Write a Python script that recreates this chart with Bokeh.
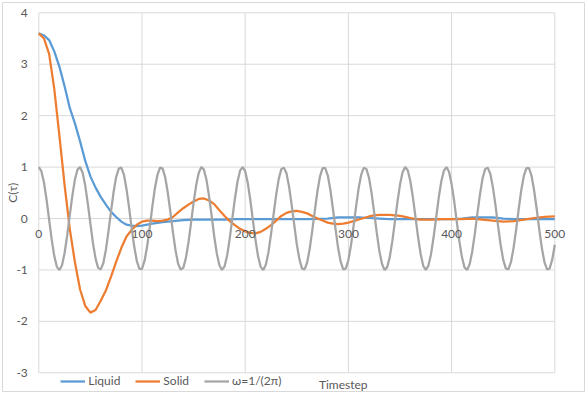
from bokeh.plotting import figure
from bokeh.models import Legend, Label
from bokeh.core.properties import value
from bokeh.embed import file_html
from bokeh.resources import INLINE

# ---- data ----
liquid_t = [0, 5, 10, 15, 20, 25, 30, 35, 40, 45, 50, 55, 60, 65, 70, 75, 80, 85, 90, 95, 100,
            110, 120, 130, 140, 150, 160, 170, 180, 190, 200, 220, 240, 260, 280,
            290, 300, 310, 320, 330, 340, 360, 380, 400, 410, 420, 430, 440, 450, 460, 480, 500]
liquid_c = [3.60, 3.56, 3.47, 3.25, 2.95, 2.57, 2.15, 1.85, 1.50, 1.12, 0.82, 0.60, 0.42, 0.27, 0.13,
            0.03, -0.06, -0.12, -0.14, -0.15, -0.14,
            -0.10, -0.07, -0.05, -0.03, -0.02, -0.02, -0.02, -0.02, -0.01, -0.01, -0.01, -0.01, -0.01, 0.0,
            0.02, 0.02, 0.02, 0.01, 0.0, -0.01, -0.01, -0.01, -0.01, 0.0, 0.02, 0.02, 0.02, 0.0, -0.01, -0.01, -0.01]

solid_t = [0, 5, 10, 15, 20, 25, 30, 35, 40, 45, 50, 55, 60, 65, 70, 75, 80, 85, 90, 95,
           100, 105, 110, 115, 120, 125, 130, 135, 140, 145, 150, 155, 160, 165, 170, 175, 180, 185, 190, 195,
           200, 205, 210, 215, 220, 225, 230, 235, 240, 245, 250, 255, 260, 265, 270, 275, 280, 285, 290, 295,
           300, 305, 310, 315, 320, 325, 330, 335, 340, 345, 350, 355, 360, 365, 370,
           380, 390, 400, 410, 420, 430, 440, 450, 460, 470, 480, 490, 500]
solid_c = [3.60, 3.50, 3.20, 2.52, 1.60, 0.65, -0.20, -0.85, -1.38, -1.70,
           -1.83, -1.78, -1.60, -1.40, -1.13, -0.84, -0.57, -0.35, -0.22, -0.12,
           -0.06, -0.04, -0.04, -0.05, -0.04, -0.02, 0.03, 0.12, 0.20, 0.27,
           0.33, 0.38, 0.39, 0.35, 0.28, 0.16, 0.05, -0.05, -0.13, -0.20,
           -0.25, -0.28, -0.29, -0.26, -0.20, -0.13, -0.04, 0.05, 0.11, 0.14,
           0.15, 0.13, 0.10, 0.05, 0.0, -0.04, -0.08, -0.10, -0.11, -0.10,
           -0.08, -0.05, -0.02, 0.01, 0.04, 0.06, 0.07, 0.07, 0.07, 0.06,
           0.05, 0.03, 0.01, -0.01, -0.02,
           -0.02, -0.01, -0.01, -0.01, 0.0, -0.02, -0.04, -0.06, -0.05, -0.02, 0.01, 0.03, 0.04]

omega_t = [k * 2.5 for k in range(201)]
omega_c = [1.00, 0.92, 0.70, 0.37, -0.02, -0.41, -0.73, -0.94, -1.00, -0.91, -0.67, -0.33, 0.06, 0.44, 0.76, 0.95,
           1.00, 0.89, 0.64, 0.29, -0.10, -0.48, -0.78, -0.96, -0.99, -0.87, -0.61, -0.25, 0.14, 0.52, 0.81, 0.97,
           0.99, 0.85, 0.57, 0.21, -0.19, -0.55, -0.83, -0.98, -0.98, -0.82, -0.54, -0.17, 0.23, 0.59, 0.85, 0.99,
           0.97, 0.80, 0.50, 0.13, -0.27, -0.62, -0.88, -0.99, -0.96, -0.77, -0.47, -0.09, 0.31, 0.65, 0.89, 1.00,
           0.95, 0.75, 0.43, 0.05, -0.35, -0.68, -0.91, -1.00, -0.93, -0.72, -0.39, 0.00, 0.38, 0.71, 0.93, 1.00,
           0.92, 0.69, 0.35, -0.04, -0.42, -0.74, -0.94, -1.00, -0.90, -0.66, -0.31, 0.08, 0.46, 0.77, 0.96, 0.99,
           0.88, 0.62, 0.27, -0.12, -0.50, -0.79, -0.97, -0.99, -0.86, -0.59, -0.23, 0.16, 0.53, 0.82, 0.98, 0.98,
           0.84, 0.56, 0.19, -0.20, -0.57, -0.84, -0.99, -0.97, -0.81, -0.52, -0.15, 0.24, 0.60, 0.86, 0.99, 0.96,
           0.79, 0.49, 0.11, -0.28, -0.63, -0.88, -1.00, -0.95, -0.76, -0.45, -0.07, 0.32, 0.66, 0.90, 1.00, 0.94,
           0.73, 0.41, 0.03, -0.36, -0.69, -0.92, -1.00, -0.92, -0.70, -0.37, 0.01, 0.40, 0.72, 0.93, 1.00, 0.91,
           0.67, 0.34, -0.06, -0.44, -0.75, -0.95, -1.00, -0.89, -0.64, -0.30, 0.10, 0.47, 0.78, 0.96, 0.99, 0.87,
           0.61, 0.26, -0.14, -0.51, -0.80, -0.97, -0.99, -0.85, -0.58, -0.22, 0.18, 0.55, 0.83, 0.98, 0.98, 0.83,
           0.54, 0.18, -0.22, -0.58, -0.85, -0.99, -0.97, -0.80, -0.51]

series_names = ["Liquid", "Solid", "ω=1/(2π)"]
x_ticks = [0, 100, 200, 300, 400, 500]
x_tick_labels = ["0", "100", "200", "300", "400", "500"]
y_ticks = [-3, -2, -1, 0, 1, 2, 3, 4]
y_tick_labels = ["-3", "-2", "-1", "0", "1", "2", "3", "4"]
x_title = "Timestep"
y_title = "C(τ)"

# ---- layout (pixels) ----
W, H = 588, 393
B_L, B_R, B_T, B_B = 2, 4, 2, 2          # chart border inset
PX_L, PX_R = 38.3, 554.3                  # plot-area left/right on page
PY_T, PY_B = 12.3, 372.3                  # plot-area top/bottom on page
x0, x1 = x_ticks[0], x_ticks[-1]
y0, y1 = y_ticks[0], y_ticks[-1]
sx = (PX_R - PX_L) / (x1 - x0)
sy = (PY_B - PY_T) / (y1 - y0)
xr = (x0 - (PX_L - B_L) / sx, x1 + ((W - B_R) - PX_R) / sx)
yr = (y0 - ((H - B_B) - PY_B) / sy, y1 + (PY_T - B_T) / sy)

FONT = "Lato"
TXT = "#595959"
GRID = "#d9d9d9"

p = figure(width=W, height=H, x_range=xr, y_range=yr,
           output_backend="svg", toolbar_location=None,
           min_border_left=B_L, min_border_right=B_R, min_border_top=B_T, min_border_bottom=B_B)
p.xaxis.visible = False
p.yaxis.visible = False
p.grid.visible = False
p.outline_line_color = GRID
p.outline_line_width = 1
p.background_fill_color = "white"
p.border_fill_color = "white"

# gridlines limited to the plot area
nx, ny = len(x_ticks), len(y_ticks)
p.segment(x0=x_ticks, y0=[y0] * nx, x1=x_ticks, y1=[y1] * nx, line_color=GRID, line_width=1)
p.segment(x0=[x0] * ny, y0=y_ticks, x1=[x1] * ny, y1=y_ticks, line_color=GRID, line_width=1)

r1 = p.line(liquid_t, liquid_c, line_color="#5B9BD5", line_width=2.25)
r2 = p.line(solid_t, solid_c, line_color="#ED7D31", line_width=2.25)
r3 = p.line(omega_t, omega_c, line_color="#A5A5A5", line_width=2.25)

# tick labels: x axis crosses at y = 0
p.text(x=x_ticks, y=[0] * nx, text=x_tick_labels, y_offset=15,
       text_align="center", text_baseline="middle", text_font=value(FONT),
       text_font_size="12px", text_color=TXT)
p.text(x=[x0] * ny, y=y_ticks, text=y_tick_labels, x_offset=-11,
       text_align="right", text_baseline="middle", text_font=value(FONT),
       text_font_size="12px", text_color=TXT)

legend = Legend(items=[(series_names[0], [r1]), (series_names[1], [r2]), (series_names[2], [r3])],
                orientation="horizontal", location=(PX_L + 22 - B_L, 3),
                border_line_color=None, background_fill_alpha=0,
                padding=0, margin=0, spacing=15, glyph_width=25, glyph_height=12,
                label_height=12, label_standoff=3,
                label_text_font=FONT, label_text_font_size="12px", label_text_color=TXT)
p.add_layout(legend, "center")

p.add_layout(Label(x=295, y=y0, y_offset=-12, text=x_title, text_align="center",
                   text_baseline="middle", text_font=FONT, text_font_size="12px",
                   text_color=TXT))
p.add_layout(Label(x=x0, y=(y0 + y1) / 2, x_offset=-26, text=y_title, angle=90, angle_units="deg",
                   text_align="center", text_baseline="middle", text_font=FONT,
                   text_font_size="12px", text_color=TXT))

open("out.html", "w").write(file_html(p, INLINE))
